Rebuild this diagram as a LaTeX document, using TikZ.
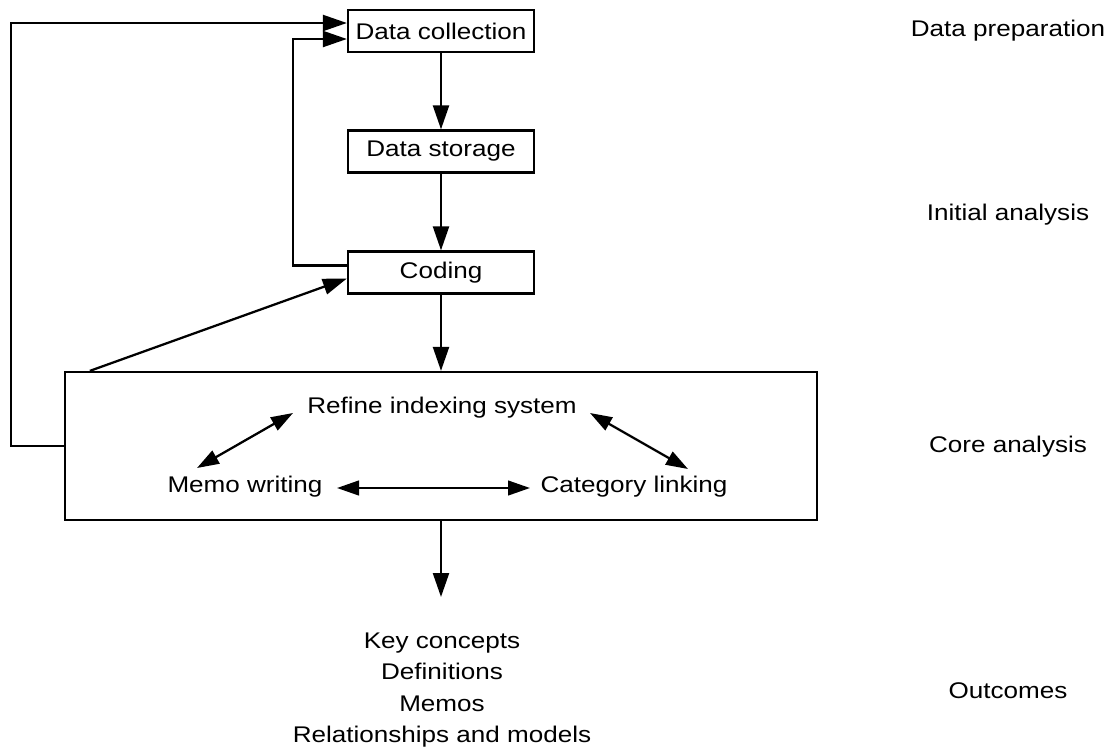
\documentclass[tikz,border=0pt]{standalone}
\usepackage{fontspec}
\setmainfont[FakeStretch=1.15]{Liberation Sans}
\usetikzlibrary{arrows.meta}
\begin{document}
\begin{tikzpicture}[x=0.75pt,y=-0.75pt,
  every node/.style={font=\fontsize{17pt}{23.6pt}\selectfont},
  stepbox/.style={draw,line width=1.7pt,minimum width=139.5pt,minimum height=31.5pt,inner sep=0pt},
  corebox/.style={draw,line width=1.7pt,minimum width=564pt,minimum height=111pt,inner sep=0pt},
  txt/.style={inner sep=0pt},
  ln/.style={line width=1.7pt},
  arr/.style={ln,-{Triangle[length=18pt,width=12pt]}},
  darr/.style={ln,{Triangle[length=16.5pt,width=11pt]}-{Triangle[length=16.5pt,width=11pt]}}]
\useasboundingbox (0,0) rectangle (1118,751);
% boxes
\node[stepbox] (dc) at (441,31) {Data collection};
\node[stepbox] (ds) at (441,151.5) {Data storage};
\node[stepbox] (cod) at (441,272.5) {Coding};
\node[corebox] (core) at (441,446) {};
% texts inside core
\node[txt] (ref) at (442,408) {Refine indexing system};
\node[txt] (memo) at (245,487) {Memo writing};
\node[txt] (cat) at (634,487) {Category linking};
% outcomes
\node[txt,align=center] (out) at (442,690) {Key concepts\\Definitions\\Memos\\Relationships and models};
% right labels
\node[txt] (l1) at (1008,31) {Data preparation};
\node[txt] (l2) at (1008,215) {Initial analysis};
\node[txt] (l3) at (1008,447) {Core analysis};
\node[txt] (l4) at (1008,691) {Outcomes};
% coordinates
\coordinate (dtop) at ([xshift=19.5pt]core.north west);
\coordinate (oend) at (441,597);
\coordinate (m1) at (197,468);
\coordinate (r1) at (293,413);
\coordinate (r2) at (590,413);
\coordinate (c1) at (688,469);
\coordinate (m2) at (337,488);
\coordinate (c2) at (530,488);
% vertical flow
\draw[arr] (dc) -- (ds);
\draw[arr] (ds) -- (cod);
\draw[arr] (cod) -- (cod |- core.north);
\draw[arr] (core) ++(0,74) -- (oend);
% loops
\draw[arr] (core.west) -- ++(-53,0) |- ([yshift=6pt]dc.west);
\draw[arr] ([yshift=5.25pt]cod.west) -- ++(-54,0) |- ([yshift=-6pt]dc.west);
\draw[arr] (dtop) -- ([yshift=-4.5pt]cod.west);
% inner arrows
\draw[darr] (m1) -- (r1);
\draw[darr] (r2) -- (c1);
\draw[darr] (m2) -- (c2);
\end{tikzpicture}
\end{document}
